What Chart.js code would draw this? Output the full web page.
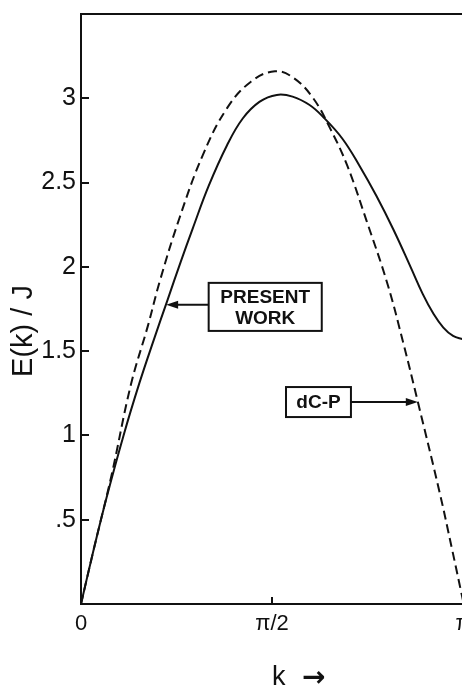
<!DOCTYPE html>
<html>
<head>
<meta charset="utf-8">
<script src="https://cdn.jsdelivr.net/npm/chart.js@4.4.1/dist/chart.umd.min.js"></script>
<style>
  html, body { margin: 0; padding: 0; background: #fff; overflow: hidden; }
  #wrap { width: 480px; height: 689px; }
</style>
</head>
<body>
<div id="wrap"><canvas id="chart" width="480" height="689"></canvas></div>
<script>
// Curva "present work" (linha cheia)
const kPresent = [0, 0.10, 0.21, 0.35, 0.48, 0.60, 0.71, 0.82, 0.92, 1.05, 1.20, 1.33, 1.47, 1.61,
                  1.74, 1.88, 1.99, 2.15, 2.29, 2.43, 2.57, 2.71, 2.81, 2.90, 2.98, 3.06, 3.1416];
const ePresent = [0, 0.31, 0.63, 1.00, 1.31, 1.57, 1.80, 2.03, 2.23, 2.48, 2.72, 2.88, 2.98, 3.02,
                  3.01, 2.96, 2.89, 2.76, 2.60, 2.42, 2.22, 2.00, 1.84, 1.72, 1.64, 1.59, 1.57];

// Curva dC-P (tracejada)
const kDCP = [0, 0.10, 0.25, 0.41, 0.55, 0.65, 0.81, 1.00, 1.20, 1.40, 1.595, 1.75, 1.91, 2.05,
              2.19, 2.35, 2.52, 2.65, 2.77, 2.95, 3.05, 3.1416];
const eDCP = [0, 0.31, 0.76, 1.30, 1.65, 1.92, 2.29, 2.66, 2.94, 3.10, 3.16, 3.12, 3.00, 2.82,
              2.60, 2.27, 1.90, 1.55, 1.20, 0.66, 0.33, 0.02];

// Ticks
const xTickValues = [0, Math.PI / 2, Math.PI];
const xTickLabels = ['0', 'π/2', 'π'];
const yTickValues = [0, 0.5, 1, 1.5, 2, 2.5, 3, 3.5];
const yTickLabels = [null, '.5', '1', '1.5', '2', '2.5', '3', null];

const INK = '#111';

const toPoints = (xs, ys) => xs.map((x, i) => ({ x: x, y: ys[i] }));

// caixas com setas (em coordenadas de dados)
const notes = [
    { lines: ['PRESENT', 'WORK'], x0: 1.05, x1: 1.98, y0: 1.62, y1: 1.905, arrowY: 1.775, tipX: 0.70 },
    { lines: ['dC-P'], x0: 1.686, x1: 2.22, y0: 1.109, y1: 1.287, arrowY: 1.198, tipX: 2.77 }
];

const extras = {
    id: 'extras',
    afterDraw(chart) {
        const { ctx, chartArea, scales } = chart;
        const xs = scales.x, ys = scales.y;
        ctx.save();
        ctx.strokeStyle = INK;
        ctx.fillStyle = INK;
        ctx.lineWidth = 2;

        // linha de cima do quadro
        ctx.beginPath();
        ctx.moveTo(chartArea.left - 1, chartArea.top);
        ctx.lineTo(chartArea.right + 20, chartArea.top);
        ctx.stroke();

        // caixas e setas
        notes.forEach(n => {
            const l = xs.getPixelForValue(n.x0), r = xs.getPixelForValue(n.x1);
            const t = ys.getPixelForValue(n.y1), b = ys.getPixelForValue(n.y0);
            ctx.lineWidth = 2;
            ctx.strokeRect(l, t, r - l, b - t);
            ctx.font = 'bold 19px "Liberation Sans"';
            ctx.textAlign = 'center';
            ctx.textBaseline = 'middle';
            const lh = 21;
            const cy = (t + b) / 2 - (n.lines.length - 1) * lh / 2;
            n.lines.forEach((s, i) => ctx.fillText(s, (l + r) / 2, cy + i * lh + 1));

            const ay = ys.getPixelForValue(n.arrowY);
            const tip = xs.getPixelForValue(n.tipX);
            const start = tip < l ? l : r;
            const dir = tip < l ? -1 : 1;
            ctx.beginPath();
            ctx.moveTo(start, ay);
            ctx.lineTo(tip - dir * 8, ay);
            ctx.stroke();
            ctx.beginPath();
            ctx.moveTo(tip, ay);
            ctx.lineTo(tip - dir * 12, ay - 4);
            ctx.lineTo(tip - dir * 12, ay + 4);
            ctx.closePath();
            ctx.fill();
        });

        // títulos dos eixos
        ctx.textBaseline = 'middle';
        ctx.font = '29px "Liberation Sans"';
        ctx.save();
        ctx.translate(24, 331);
        ctx.rotate(-Math.PI / 2);
        ctx.textAlign = 'center';
        ctx.fillText('E(k) / J', 0, 0);
        ctx.restore();

        ctx.textAlign = 'left';
        ctx.font = '27px "Liberation Sans"';
        ctx.fillText('k', 272, 678);
        ctx.font = 'bold 28px "DejaVu Sans"';
        ctx.fillText('→', 302, 679);
        ctx.restore();
    }
};

new Chart(document.getElementById('chart'), {
    type: 'line',
    data: {
        datasets: [
            {
                label: 'Present work',
                data: toPoints(kPresent, ePresent),
                borderColor: INK,
                borderWidth: 2,
                pointRadius: 0,
                tension: 0.4
            },
            {
                label: 'dC-P',
                data: toPoints(kDCP, eDCP),
                borderColor: INK,
                borderWidth: 2,
                borderDash: [9, 5],
                pointRadius: 0,
                tension: 0.4
            }
        ]
    },
    options: {
        responsive: false,
        animation: false,
        events: [],
        layout: { padding: { left: 0, top: 14, right: 17, bottom: 0 } },
        plugins: { legend: { display: false }, tooltip: { enabled: false } },
        scales: {
            x: {
                type: 'linear',
                min: 0,
                max: Math.PI,
                afterBuildTicks: s => { s.ticks = xTickValues.map(v => ({ value: v })); },
                afterFit: s => { s.height = 85; s.paddingLeft = 0; s.paddingRight = 0; },
                ticks: {
                    callback: (v, i) => xTickLabels[i],
                    color: INK,
                    padding: 14,
                    maxRotation: 0,
                    autoSkip: false,
                    font: { family: '"Liberation Sans"', size: 22 }
                },
                grid: { drawOnChartArea: false, drawTicks: true, tickLength: -7, color: INK, lineWidth: 2 },
                border: { color: INK, width: 2 }
            },
            y: {
                type: 'linear',
                min: 0,
                max: 3.5,
                afterBuildTicks: s => { s.ticks = yTickValues.map(v => ({ value: v })); },
                afterFit: s => { s.width = 81; s.paddingTop = 0; s.paddingBottom = 0; },
                ticks: {
                    callback: (v, i) => yTickLabels[i],
                    color: INK,
                    padding: 13,
                    autoSkip: false,
                    font: { family: '"Liberation Sans"', size: 25 }
                },
                grid: { drawOnChartArea: false, drawTicks: true, tickLength: -8, color: INK, lineWidth: 2 },
                border: { color: INK, width: 2 }
            }
        }
    },
    plugins: [extras]
});
</script>
</body>
</html>
